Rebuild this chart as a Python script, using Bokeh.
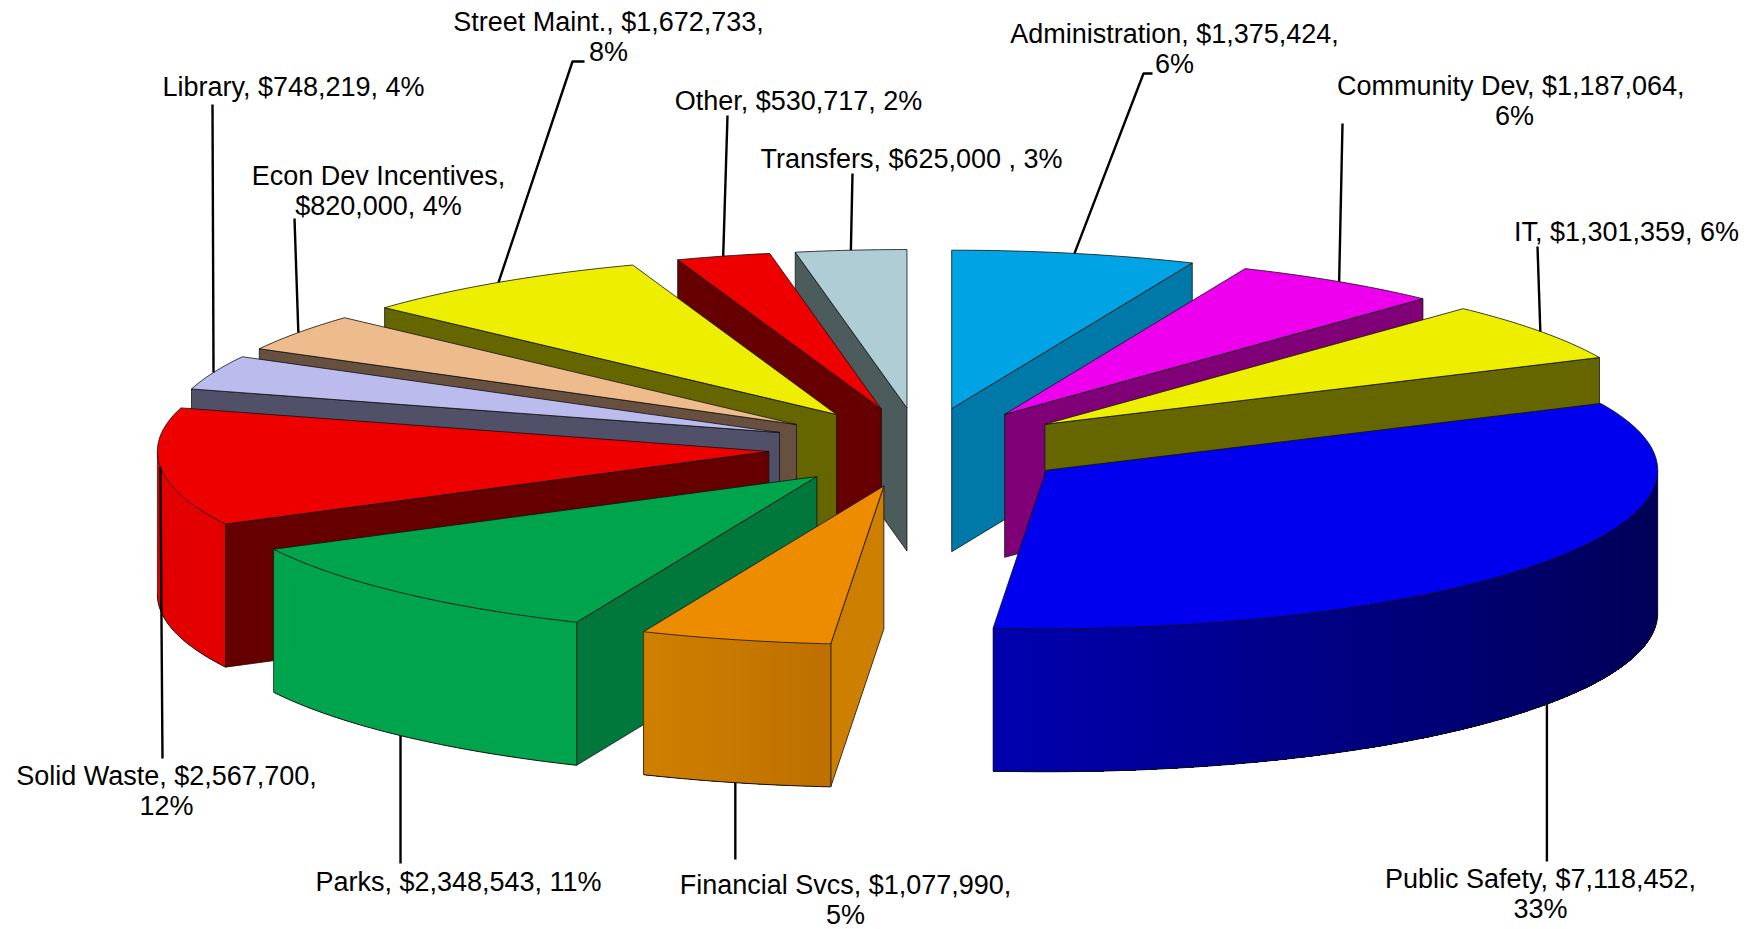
import numpy as np
from bokeh.plotting import figure
from bokeh.models import Range1d
from bokeh.core.properties import value
from bokeh.embed import file_html
from bokeh.resources import INLINE

# ---- data (clockwise from 12 o'clock) ----
categories = ["Administration", "Community Dev", "IT", "Public Safety", "Financial Svcs", "Parks",
              "Solid Waste", "Library", "Econ Dev Incentives", "Street Maint.", "Other", "Transfers"]
amounts = [1375424, 1187064, 1301359, 7118452, 1077990, 2348543,
           2567700, 748219, 820000, 1672733, 530717, 625000]
label_lines = [
    ["Administration, $1,375,424,", "6%"],
    ["Community  Dev, $1,187,064,", "6%"],
    ["IT, $1,301,359, 6%"],
    ["Public Safety, $7,118,452,", "33%"],
    ["Financial Svcs, $1,077,990,", "5%"],
    ["Parks, $2,348,543, 11%"],
    ["Solid Waste, $2,567,700,", "12%"],
    ["Library, $748,219, 4%"],
    ["Econ Dev Incentives,", "$820,000, 4%"],
    ["Street Maint., $1,672,733,", "8%"],
    ["Other, $530,717, 2%"],
    ["Transfers, $625,000 , 3%"],
]

# ---- styles ----
top_colors = ["#00A4E4", "#EE00EE", "#EEEE00", "#0000EE", "#EE8C00", "#00A44C",
              "#EE0000", "#BBBBEE", "#EEBB8C", "#EEEE00", "#EE0000", "#AECDD4"]
cut_colors = ["#0078A8", "#800078", "#666600", "#000080", "#CC7F00", "#00783C",
              "#660000", "#505068", "#685040", "#666600", "#660000", "#4C5C5C"]
rim_left = ["#0078A8", "#800078", "#666600", "#0000B0", "#D08000", "#00A44C",
            "#E20000", "#505068", "#685040", "#666600", "#660000", "#4C5C5C"]
rim_right = ["#0078A8", "#800078", "#666600", "#000058", "#BE7000", "#00A44C",
             "#E20000", "#505068", "#685040", "#666600", "#660000", "#4C5C5C"]

# ---- layout, in page pixels ----
CX, CY = 920.5, 447.0
RX, RY = 611.5, 158.5
EXPLODE = 0.25
DEPTH = 143.0
# label centre of first line, line pitch
label_xy = [(1174, 33), (1514, 85), (1626, 231), (1540, 878), (845, 884), (458, 881),
            (166, 775), (293, 86), (378, 175), (608, 21), (798, 100), (911, 158)]
LINE = 30.5
# leader waypoints from the rim towards the label
leader_via = [[(1143, 73), (1152, 73)], [(1342, 123)], [(1537, 246)], [(1545, 861)], [(735, 859)], [(400, 863)],
              [(162, 758)], [(212, 104)], [(294, 218)], [(572, 61), (584, 61)], [(727, 115)], [(852, 173)]]
VERTICAL = {"Public Safety", "Parks", "Financial Svcs"}

amounts_arr = np.array(amounts, dtype=float)
edges = np.concatenate([[0.0], np.cumsum(amounts_arr)]) / amounts_arr.sum() * 2 * np.pi


def hex2rgb(h):
    return np.array([int(h[i:i + 2], 16) for i in (1, 3, 5)], dtype=float)


def rgb2hex(c):
    return "#%02X%02X%02X" % tuple(int(round(v)) for v in c)


p = figure(width=1753, height=929, x_range=Range1d(0, 1753), y_range=Range1d(929, 0),
           output_backend="svg", toolbar_location=None, min_border=0)
p.axis.visible = False
p.grid.visible = False
p.outline_line_color = None
p.background_fill_color = "white"
p.border_fill_color = "white"

EDGE = dict(line_color="#101010", line_width=0.8)

mids = (edges[:-1] + edges[1:]) / 2
apex_x = CX + EXPLODE * RX * np.sin(mids)
apex_y = CY - EXPLODE * RY * np.cos(mids)

# painter's order: back slices first
order = np.argsort(-np.cos(mids))
for i in order:
    t1, t2 = edges[i], edges[i + 1]
    ax, ay = apex_x[i], apex_y[i]
    rimx = lambda t: ax + RX * np.sin(t)
    rimy = lambda t: ay - RY * np.cos(t)

    # radial cut faces
    if np.sin(t1) < 0:
        xs = [ax, rimx(t1), rimx(t1), ax]
        ys = [ay, rimy(t1), rimy(t1) + DEPTH, ay + DEPTH]
        p.patch(xs, ys, fill_color=cut_colors[i], **EDGE)
    if np.sin(t2) > 0:
        xs = [ax, rimx(t2), rimx(t2), ax]
        ys = [ay, rimy(t2), rimy(t2) + DEPTH, ay + DEPTH]
        p.patch(xs, ys, fill_color=cut_colors[i], **EDGE)

    # outer wall, only where it faces the viewer; each band runs to the wall's far end
    # and is overpainted by the next, so no seams show
    lo, hi = max(t1, np.pi / 2), min(t2, 3 * np.pi / 2)
    if hi > lo:
        ts = np.linspace(lo, hi, int(np.degrees(hi - lo)) + 2)
        xl, xr = rimx(ts).min(), rimx(ts).max()
        cl, cr = hex2rgb(rim_left[i]), hex2rgb(rim_right[i])
        bands = 1 if rim_left[i] == rim_right[i] else len(ts) - 1
        for k in range(bands):
            rest = ts[k:]
            f = (rimx(ts[k]) - xl) / (xr - xl)
            col = rgb2hex(cl + (cr - cl) * f)
            p.patch(np.concatenate([rimx(rest), rimx(rest)[::-1]]),
                    np.concatenate([rimy(rest), rimy(rest)[::-1] + DEPTH]),
                    fill_color=col, line_color=None)
        p.line(rimx(ts), rimy(ts) + DEPTH, line_color="#101010", line_width=1)
        p.line([rimx(lo)] * 2, [rimy(lo), rimy(lo) + DEPTH], line_color="#101010", line_width=0.7)
        p.line([rimx(hi)] * 2, [rimy(hi), rimy(hi) + DEPTH], line_color="#101010", line_width=0.7)

    # top face
    ts = np.linspace(t1, t2, int(np.degrees(t2 - t1)) + 3)
    p.patch(np.concatenate([[ax], rimx(ts)]), np.concatenate([[ay], rimy(ts)]),
            fill_color=top_colors[i], **EDGE)

# leaders
for i, via in enumerate(leader_via):
    front = np.cos(mids[i]) < -0.2
    sx = apex_x[i] + RX * np.sin(mids[i])
    sy = apex_y[i] - RY * np.cos(mids[i]) + (DEPTH if front else 0)
    xs = [sx] + [v[0] for v in via]
    ys = [sy] + [v[1] for v in via]
    if categories[i] in VERTICAL:
        xs[-1] = sx
    p.line(xs, ys, line_color="black", line_width=2.4)

# labels
for (lx, ly), lines in zip(label_xy, label_lines):
    for k, line in enumerate(lines):
        p.text([lx], [ly + k * LINE], text=[line], text_align="center", text_baseline="middle",
               text_font=value("Liberation Sans"), text_font_size="27px", text_color="black")

open("out.html", "w").write(file_html(p, INLINE))
